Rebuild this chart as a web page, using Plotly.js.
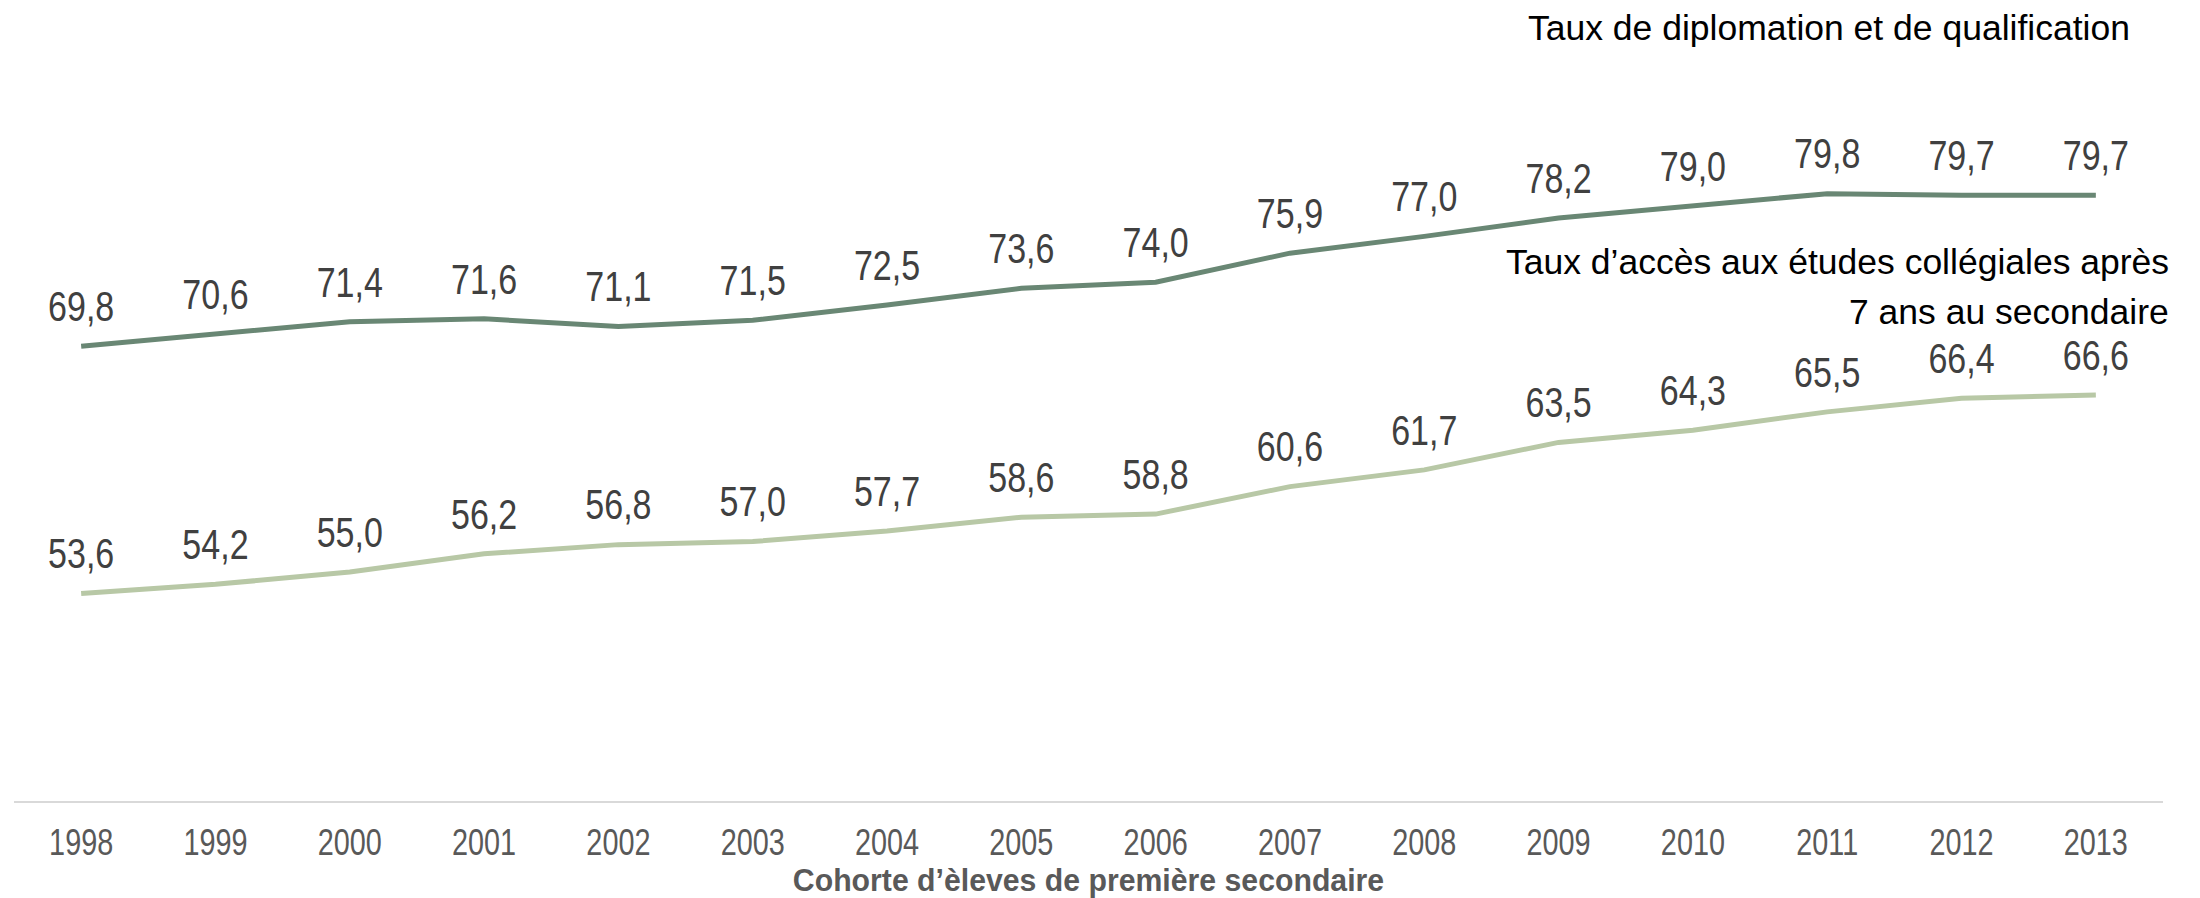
<!DOCTYPE html>
<html>
<head>
<meta charset="utf-8">
<script src="https://cdn.plot.ly/plotly-3.0.1.min.js"></script>
<style>
html,body{margin:0;padding:0;background:#fff;}
#chart{width:2200px;height:898px;}
</style>
</head>
<body>
<div id="chart"></div>
<script>
const years = ["1998","1999","2000","2001","2002","2003","2004","2005","2006","2007","2008","2009","2010","2011","2012","2013"];
const tauxDiplomation = [69.8,70.6,71.4,71.6,71.1,71.5,72.5,73.6,74.0,75.9,77.0,78.2,79.0,79.8,79.7,79.7];
const tauxAcces = [53.6,54.2,55.0,56.2,56.8,57.0,57.7,58.6,58.8,60.6,61.7,63.5,64.3,65.5,66.4,66.6];
const labelDiplomation = "Taux de diplomation et de qualification";
const labelAcces1 = "Taux d\u2019accès aux études collégiales après";
const labelAcces2 = "7 ans au secondaire";
const xTitle = "Cohorte d\u2019èleves de première secondaire";

const FONT = "'Liberation Sans', Arial, sans-serif";
const fmt = v => v.toFixed(1).replace('.', ',');

function series(y, color){
  return {
    x: years, y: y, type: 'scatter', mode: 'lines+markers+text',
    line: {color: color, width: 5},
    marker: {size: 22, color: 'rgba(0,0,0,0)'},
    text: y.map(fmt), textposition: 'top center',
    textfont: {family: FONT, size: 42, color: '#404040'},
    hoverinfo: 'skip', cliponaxis: false, showlegend: false
  };
}

const data = [series(tauxDiplomation, '#698774'), series(tauxAcces, '#b8c8a6')];

const layout = {
  width: 2200, height: 898,
  margin: {l: 14, r: 37, t: 38, b: 97},
  paper_bgcolor: '#fff', plot_bgcolor: '#fff',
  showlegend: false,
  xaxis: {
    type: 'category', range: [-0.5, 15.5],
    showline: true, linecolor: '#d9d9d9', linewidth: 2,
    showgrid: false, zeroline: false, ticks: '',
    tickfont: {family: FONT, size: 36, color: '#595959'},
    ticklabelstandoff: 9,
    title: {text: xTitle, font: {family: FONT, size: 31, color: '#595959', weight: 'bold'}, standoff: 8}
  },
  yaxis: {
    range: [40, 90], visible: false, showgrid: false, zeroline: false, fixedrange: true
  },
  annotations: [
    {xref: 'paper', yref: 'paper', x: 0.8446, y: 1.0131, xanchor: 'center', yanchor: 'middle',
     text: labelDiplomation, showarrow: false, font: {family: FONT, size: 35.5, color: '#000'}},
    {xref: 'paper', yref: 'paper', x: 1.0037, y: 0.7064, xanchor: 'right', yanchor: 'middle',
     text: labelAcces1, showarrow: false, font: {family: FONT, size: 35.5, color: '#000'}},
    {xref: 'paper', yref: 'paper', x: 1.0037, y: 0.6409, xanchor: 'right', yanchor: 'middle',
     text: labelAcces2, showarrow: false, font: {family: FONT, size: 35.5, color: '#000'}}
  ]
};

// The reference uses a condensed face (Arial Narrow-like); none is installed,
// so squeeze the real text horizontally with SVG textLength.
function squeeze(gd, sel, f){
  gd.querySelectorAll(sel).forEach(t => {
    const L = t.getComputedTextLength();
    if (L > 0) {
      t.setAttribute('textLength', (L * f).toFixed(1));
      t.setAttribute('lengthAdjust', 'spacingAndGlyphs');
    }
  });
}

Plotly.newPlot('chart', data, layout, {displayModeBar: false, staticPlot: true}).then(gd => {
  squeeze(gd, '.textpoint text', 0.81);
  squeeze(gd, '.xtick text', 0.80);
  squeeze(gd, '.xtitle', 0.975);
});
</script>
</body>
</html>
